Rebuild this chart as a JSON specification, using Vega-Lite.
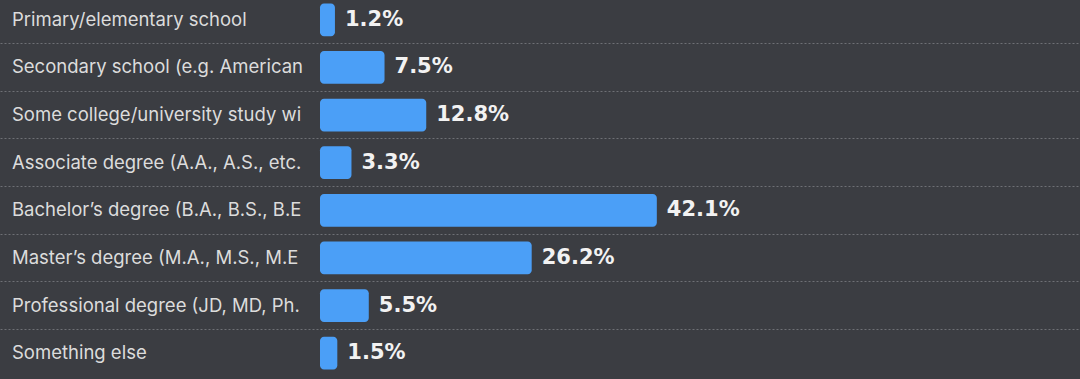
{
  "$schema": "https://vega.github.io/schema/vega-lite/v6.json",
  "width": 1080,
  "height": 381,
  "autosize": {"type": "none"},
  "padding": {"top": -4, "left": 0, "right": 0, "bottom": 2},
  "background": "#3b3d42",
  "config": {"view": {"stroke": null}},
  "data": {
    "values": [
      {"level": "Primary/elementary school", "share": 0.012},
      {"level": "Secondary school (e.g. American high school, German Realschule or Gymnasium, etc.)", "share": 0.075},
      {"level": "Some college/university study without earning a degree", "share": 0.128},
      {"level": "Associate degree (A.A., A.S., etc.)", "share": 0.033},
      {"level": "Bachelor’s degree (B.A., B.S., B.Eng., etc.)", "share": 0.421},
      {"level": "Master’s degree (M.A., M.S., M.Eng., MBA, etc.)", "share": 0.262},
      {"level": "Professional degree (JD, MD, Ph.D, Ed.D, etc.)", "share": 0.055},
      {"level": "Something else", "share": 0.015}
    ]
  },
  "encoding": {
    "y": {
      "field": "level",
      "type": "nominal",
      "sort": null,
      "scale": {"paddingInner": 0, "paddingOuter": 0},
      "axis": {
        "title": null,
        "labels": false,
        "ticks": false,
        "domain": false,
        "grid": true,
        "bandPosition": 0,
        "gridColor": "#6e7075",
        "gridDash": [2, 2],
        "gridWidth": 1
      }
    }
  },
  "layer": [
    {
      "mark": {"type": "bar", "color": "#4b9ff7", "cornerRadius": 4, "height": {"band": 0.69}},
      "encoding": {
        "x": {
          "field": "share",
          "type": "quantitative",
          "scale": {"domain": [-0.4136, 0.9587], "zero": false, "nice": false},
          "axis": null
        },
        "x2": {"datum": -0.007}
      }
    },
    {
      "mark": {"type": "text", "align": "left", "baseline": "middle", "dx": 10, "font": "DejaVu Sans", "fontSize": 21, "fontWeight": "bold", "color": "#f2f2f2"},
      "encoding": {
        "x": {"field": "share", "type": "quantitative"},
        "text": {"field": "share", "type": "quantitative", "format": ".1%"}
      }
    },
    {
      "mark": {"type": "text", "align": "left", "baseline": "middle", "font": "Inter", "fontSize": 18.5, "color": "#dcdcdc", "limit": 294, "ellipsis": "\u200b"},
      "encoding": {
        "x": {"datum": -0.3984},
        "text": {"field": "level", "type": "nominal"}
      }
    }
  ]
}
